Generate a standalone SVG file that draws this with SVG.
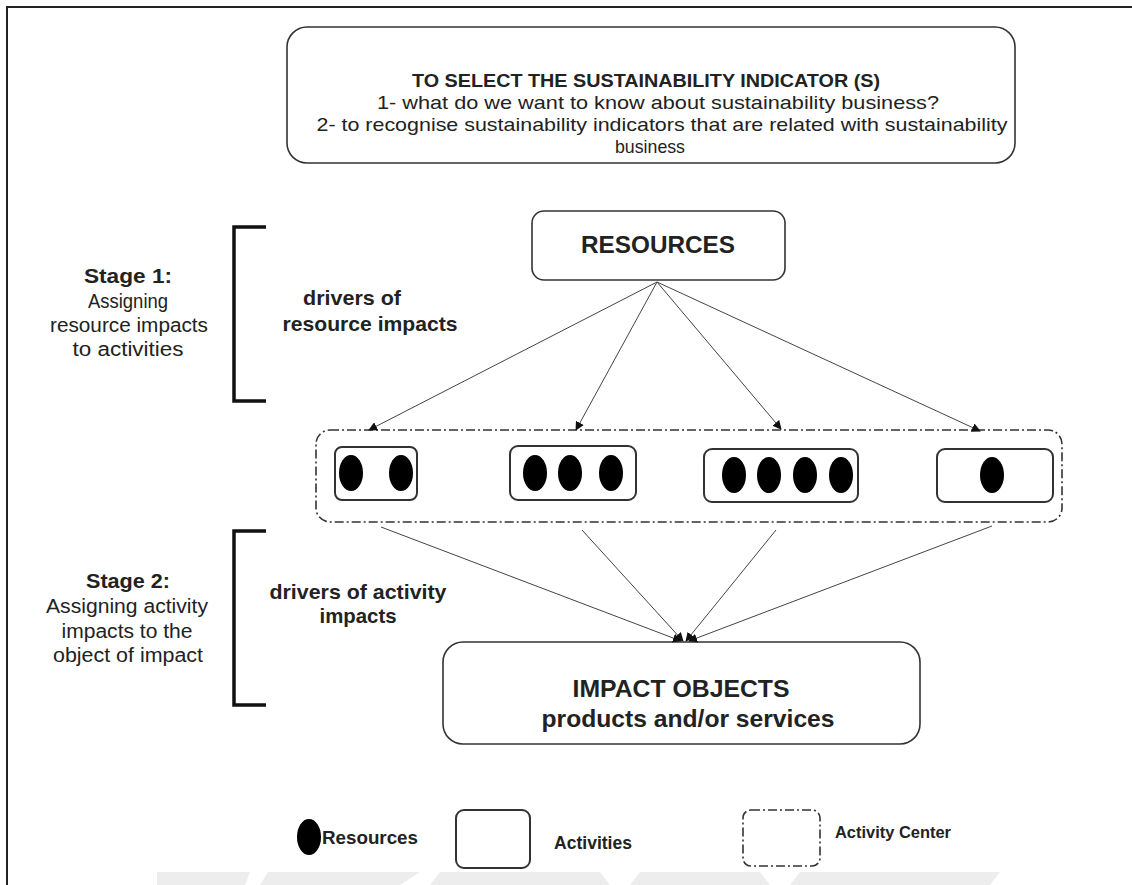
<svg xmlns="http://www.w3.org/2000/svg" width="1132" height="885" viewBox="0 0 1132 885">
<style>
text{font-family:"Liberation Sans",Arial,sans-serif;fill:#222;}
.b{font-weight:bold;}
.box{fill:#fff;stroke:#333;stroke-width:1.6;}
.act{fill:#fff;stroke:#333;stroke-width:2;}
.dd{fill:none;stroke:#333;stroke-width:1.6;stroke-dasharray:9 3 2 3;}
.res{fill:#000;}
.br{fill:none;stroke:#111;stroke-width:3.5;}
.cn{stroke:#444;stroke-width:1;fill:none;marker-end:url(#ah);}
</style>
<defs>
<marker id="ah" viewBox="0 0 10 10" refX="9" refY="5" markerWidth="9" markerHeight="9" markerUnits="userSpaceOnUse" orient="auto">
<path d="M0,0 L10,5 L0,10 z" fill="#111"/>
</marker>
</defs>
<rect width="1132" height="885" fill="#fff"/>
<!-- frame -->
<path d="M7,885 L7,7 L1132,7" fill="none" stroke="#222" stroke-width="2"/>
<!-- watermark band -->
<g fill="#ededed">
<polygon points="157,872 250,872 245,885 157,885"/>
<polygon points="268,872 420,872 400,885 260,885"/>
<polygon points="440,872 600,872 610,885 430,885"/>
<polygon points="640,872 760,872 770,885 630,885"/>
<polygon points="800,872 1000,872 990,885 790,885"/>
</g>

<g id="criteria">
<rect class="box" x="287" y="27" width="728" height="136" rx="20"/>
<text class="b" x="646" y="87" font-size="19" text-anchor="middle" textLength="468" lengthAdjust="spacingAndGlyphs">TO SELECT THE SUSTAINABILITY INDICATOR (S)</text>
<text x="658" y="109" font-size="19" text-anchor="middle" textLength="562" lengthAdjust="spacingAndGlyphs">1- what do we want to know about sustainability business?</text>
<text x="662" y="131" font-size="19" text-anchor="middle" textLength="691" lengthAdjust="spacingAndGlyphs">2- to recognise sustainability indicators that are related with sustainability</text>
<text x="650" y="153" font-size="19" text-anchor="middle" textLength="70" lengthAdjust="spacingAndGlyphs">business</text>
</g>

<g id="resources">
<rect class="box" x="532" y="211" width="253" height="69" rx="12"/>
<text class="b" x="658" y="253" font-size="24" text-anchor="middle" textLength="154" lengthAdjust="spacingAndGlyphs">RESOURCES</text>
</g>

<g id="stage1">
<path class="br" d="M266,227 L234,227 L234,401 L266,401"/>
<text class="b" x="128" y="283" font-size="20" text-anchor="middle" textLength="88" lengthAdjust="spacingAndGlyphs">Stage 1:</text>
<text x="128" y="308" font-size="20" text-anchor="middle" textLength="80" lengthAdjust="spacingAndGlyphs">Assigning</text>
<text x="129" y="332" font-size="20" text-anchor="middle" textLength="158" lengthAdjust="spacingAndGlyphs">resource impacts</text>
<text x="128" y="356" font-size="20" text-anchor="middle" textLength="111" lengthAdjust="spacingAndGlyphs">to activities</text>
</g>

<g id="drivers1">
<text class="b" x="352" y="305" font-size="21" text-anchor="middle" textLength="98" lengthAdjust="spacingAndGlyphs">drivers of</text>
<text class="b" x="370" y="331" font-size="21" text-anchor="middle" textLength="175" lengthAdjust="spacingAndGlyphs">resource impacts</text>
</g>

<g id="activity-center">
<rect class="dd" x="316" y="430" width="746" height="92" rx="14"/>
</g>

<g id="activity1">
<rect class="act" x="335" y="447" width="82" height="53" rx="7"/>
<ellipse class="res" cx="351" cy="473" rx="12" ry="18"/>
<ellipse class="res" cx="401" cy="473" rx="12" ry="18"/>
</g>
<g id="activity2">
<rect class="act" x="510" y="446" width="126" height="54" rx="8"/>
<ellipse class="res" cx="535" cy="473" rx="12" ry="18"/>
<ellipse class="res" cx="570" cy="473" rx="12" ry="18"/>
<ellipse class="res" cx="611" cy="473" rx="12" ry="18"/>
</g>
<g id="activity3">
<rect class="act" x="704" y="449" width="154" height="53" rx="8"/>
<ellipse class="res" cx="734" cy="475" rx="12" ry="18"/>
<ellipse class="res" cx="769" cy="475" rx="12" ry="18"/>
<ellipse class="res" cx="805" cy="475" rx="12" ry="18"/>
<ellipse class="res" cx="841" cy="475" rx="12" ry="18"/>
</g>
<g id="activity4">
<rect class="act" x="937" y="449" width="116" height="53" rx="8"/>
<ellipse class="res" cx="992" cy="475" rx="12" ry="18"/>
</g>

<g id="stage2">
<path class="br" d="M266,531 L234,531 L234,705 L266,705"/>
<text class="b" x="128" y="588" font-size="20" text-anchor="middle" textLength="84" lengthAdjust="spacingAndGlyphs">Stage 2:</text>
<text x="127" y="613" font-size="20" text-anchor="middle" textLength="162" lengthAdjust="spacingAndGlyphs">Assigning  activity</text>
<text x="127" y="638" font-size="20" text-anchor="middle" textLength="131" lengthAdjust="spacingAndGlyphs">impacts to the</text>
<text x="128" y="662" font-size="20" text-anchor="middle" textLength="150" lengthAdjust="spacingAndGlyphs">object of impact</text>
</g>

<g id="drivers2">
<text class="b" x="358" y="599" font-size="21" text-anchor="middle" textLength="177" lengthAdjust="spacingAndGlyphs">drivers of activity</text>
<text class="b" x="358" y="623" font-size="21" text-anchor="middle" textLength="77" lengthAdjust="spacingAndGlyphs">impacts</text>
</g>

<g id="impact-objects">
<rect class="box" x="443" y="642" width="477" height="102" rx="20"/>
<text class="b" x="681" y="697" font-size="24" text-anchor="middle" textLength="217" lengthAdjust="spacingAndGlyphs">IMPACT OBJECTS</text>
<text class="b" x="688" y="727" font-size="24" text-anchor="middle" textLength="293" lengthAdjust="spacingAndGlyphs">products and/or services</text>
</g>

<g id="connectors">
<line class="cn" x1="657" y1="282" x2="369" y2="430"/>
<line class="cn" x1="657" y1="282" x2="576" y2="430"/>
<line class="cn" x1="657" y1="282" x2="781" y2="429"/>
<line class="cn" x1="657" y1="282" x2="980" y2="431"/>
<line class="cn" x1="381" y1="527" x2="681" y2="641"/>
<line class="cn" x1="582" y1="530" x2="683" y2="641"/>
<line class="cn" x1="776" y1="530" x2="686" y2="641"/>
<line class="cn" x1="992" y1="526" x2="689" y2="641"/>
</g>

<g id="legend">
<ellipse class="res" cx="309" cy="837" rx="12" ry="18"/>
<text class="b" x="322" y="844" font-size="18" textLength="96" lengthAdjust="spacingAndGlyphs">Resources</text>
<rect class="act" x="456" y="810" width="74" height="58" rx="8"/>
<text class="b" x="554" y="849" font-size="18" textLength="78" lengthAdjust="spacingAndGlyphs">Activities</text>
<rect class="dd" x="743" y="810" width="77" height="56" rx="8"/>
<text class="b" x="835" y="838" font-size="17" textLength="116" lengthAdjust="spacingAndGlyphs">Activity Center</text>
</g>
</svg>
